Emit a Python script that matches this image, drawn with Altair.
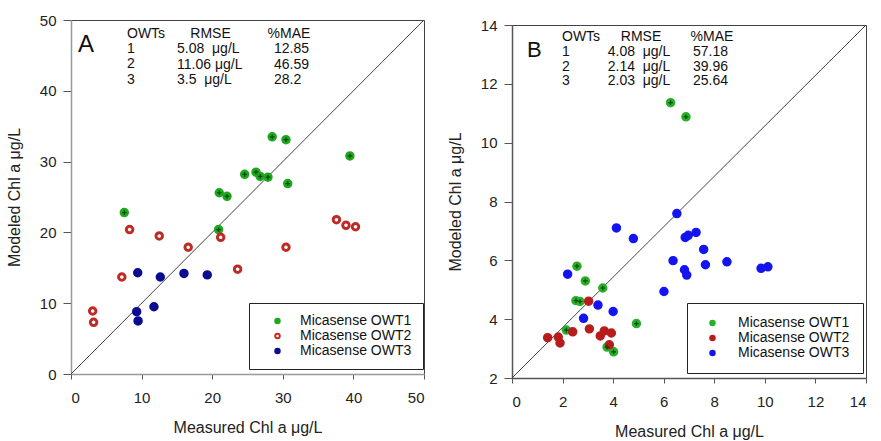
import altair as alt
import pandas as pd

FONT = "Liberation Sans"
NB = "\u00a0"

owt_labels = ["Micasense OWT1", "Micasense OWT2", "Micasense OWT3"]

# ---- Panel A values ----
a_owt1_x = [28.5, 30.45, 39.5, 24.6, 26.2, 26.8, 27.9, 30.7, 21.0, 22.1, 7.55, 20.9]
a_owt1_y = [33.5, 33.1, 30.8, 28.2, 28.5, 27.9, 27.8, 26.9, 25.6, 25.1, 22.8, 20.4]
a_owt2_x = [8.3, 12.5, 16.6, 21.2, 37.6, 38.95, 40.3, 30.45, 23.6, 7.2, 3.07, 3.2]
a_owt2_y = [20.4, 19.5, 17.9, 19.3, 21.8, 21.0, 20.8, 17.9, 14.8, 13.7, 8.9, 7.3]
a_owt3_x = [9.45, 12.65, 16.0, 19.3, 11.75, 9.3, 9.5]
a_owt3_y = [14.3, 13.7, 14.2, 14.0, 9.5, 8.8, 7.5]

# ---- Panel B values ----
b_owt1_x = [6.27, 6.88, 2.57, 2.90, 3.59, 2.53, 2.69, 2.15, 4.92, 3.76, 4.02]
b_owt1_y = [11.36, 10.88, 5.80, 5.30, 5.06, 4.63, 4.60, 3.63, 3.85, 3.05, 2.89]
b_owt2_x = [3.03, 3.06, 1.41, 1.83, 1.90, 2.40, 3.49, 3.65, 3.93, 3.85]
b_owt2_y = [4.61, 3.67, 3.37, 3.39, 3.19, 3.57, 3.43, 3.60, 3.53, 3.13]
b_owt3_x = [6.52, 4.13, 4.80, 7.28, 6.85, 6.97, 7.58, 6.37, 7.65, 8.50, 9.85, 10.12, 6.82, 6.91, 6.01, 2.20, 3.40, 4.00, 2.83]
b_owt3_y = [7.59, 7.10, 6.74, 6.95, 6.78, 6.85, 6.37, 5.99, 5.85, 5.95, 5.73, 5.78, 5.68, 5.50, 4.94, 5.53, 4.48, 4.26, 4.03]

# 1:1 reference lines (corner to corner)
a_diag_x = [0, 50]
a_diag_y = [0, 50]
b_diag_x = [0, 14]
b_diag_y = [2, 14]

# axis ticks
a_ticks = [0, 10, 20, 30, 40, 50]
b_xticks = [0, 2, 4, 6, 8, 10, 12, 14]
b_yticks = [2, 4, 6, 8, 10, 12, 14]

# statistics tables
table_header = ["OWTs", "RMSE", "%MAE"]
owt_ids = ["1", "2", "3"]
a_rmse = ["5.08", "11.06", "3.5"]
a_mae = ["12.85", "46.59", "28.2"]
b_rmse = ["4.08", "2.14", "2.03"]
b_mae = ["57.18", "39.96", "25.64"]

x_title = "Measured Chl a  μg/L"
y_title = "Modeled Chl a  μg/L"


def points_df(xs, ys):
    rows = []
    for lab, xv, yv in zip(owt_labels, xs, ys):
        for a, b in zip(xv, yv):
            rows.append({"x": a, "y": b, "g": lab})
    return pd.DataFrame(rows)


def text_layer(txt, x, y, size=14, align="left", line_height=15.4):
    return alt.Chart(pd.DataFrame({"t": [txt]})).mark_text(
        font=FONT, fontSize=size, align=align, baseline="alphabetic",
        lineBreak="\n", lineHeight=line_height, color="#111"
    ).encode(text="t:N", x=alt.value(x), y=alt.value(y))


def panel(df, diag_x, diag_y, xdom, ydom, xticks, yticks, stroke_rng, fill_rng,
          legend, w, h, texts, domain_color):
    xs = alt.X("x:Q", scale=alt.Scale(domain=xdom, nice=False, zero=False),
               axis=alt.Axis(values=xticks, title=x_title, tickSize=5, labelPadding=11,
                             titlePadding=14, domainColor=domain_color))
    ys = alt.Y("y:Q", scale=alt.Scale(domain=ydom, nice=False, zero=False),
               axis=alt.Axis(values=yticks, title=y_title, tickSize=8, labelPadding=7,
                             titlePadding=17, domainColor=domain_color))
    line = alt.Chart(pd.DataFrame({"x": diag_x, "y": diag_y})).mark_line(
        color="#444", strokeWidth=1).encode(x=xs, y=ys)
    pts = alt.Chart(df).mark_point(filled=True, shape="circle", size=42, strokeWidth=3,
                                   opacity=1).encode(
        x=xs, y=ys,
        fill=alt.Fill("g:N", scale=alt.Scale(domain=owt_labels, range=fill_rng), legend=legend),
        stroke=alt.Stroke("g:N", scale=alt.Scale(domain=owt_labels, range=stroke_rng), legend=legend),
    )
    cross = alt.Chart(df[df["g"] == owt_labels[0]]).mark_point(
        shape="M-1,0L1,0M0,-1L0,1", size=22, strokeWidth=1.2, filled=False,
        color="#063a06", opacity=0.9).encode(x=xs, y=ys)
    layers = [line, pts, cross] + texts
    return alt.layer(*layers).properties(width=w, height=h)


def legend_for(x, y, pad, sym_off, lab_off):
    return alt.Legend(
        orient="none", legendX=x, legendY=y, title=None,
        strokeColor="#222", fillColor="white", padding=pad,
        symbolOffset=sym_off, labelOffset=lab_off, symbolSize=20,
        symbolStrokeWidth=2, labelFont=FONT, labelFontSize=14, labelColor="#111",
        rowPadding=1, symbolType="circle",
    )


df_a = points_df([a_owt1_x, a_owt2_x, a_owt3_x], [a_owt1_y, a_owt2_y, a_owt3_y])
df_b = points_df([b_owt1_x, b_owt2_x, b_owt3_x], [b_owt1_y, b_owt2_y, b_owt3_y])

a_texts = [
    text_layer("A", 7, 32, size=24),
    text_layer("\n".join([table_header[0]] + owt_ids), 56, 17.7),
    text_layer(table_header[1], 139.5, 17.7, align="center"),
    text_layer("\n".join([a_rmse[0] + NB + NB + "μg/L", a_rmse[1] + NB + "μg/L",
                          NB + a_rmse[2] + NB + NB + "μg/L"]), 106, 33.2),
    text_layer(table_header[2], 218, 17.7, align="center"),
    text_layer("\n".join([a_mae[0], NB + a_mae[1], NB + a_mae[2]]), 203, 33.2),
]
b_texts = [
    text_layer("B", 15, 32, size=22),
    text_layer("\n".join([table_header[0]] + owt_ids), 50, 16, line_height=14.8),
    text_layer(table_header[1], 129, 16, align="center"),
    text_layer("\n".join([v + NB + NB + "μg/L" for v in b_rmse]), 95.7, 30.8, line_height=14.8),
    text_layer(table_header[2], 200, 16, align="center"),
    text_layer("\n".join([b_mae[0], b_mae[1], NB + b_mae[2]]), 181, 30.8, line_height=14.8),
]

panel_a = panel(df_a, a_diag_x, a_diag_y, [0, 50], [0, 50], a_ticks, a_ticks,
                ["#1ea81e", "#c02a24", "#0c0c90"], ["#1ea81e", "#ffffff", "#0c0c90"],
                legend_for(178, 283, 11, 10.5, 15.5), 353, 354, a_texts, "#999")
panel_b = panel(df_b, b_diag_x, b_diag_y, [0, 14], [2, 14], b_xticks, b_yticks,
                ["#28b028", "#b81c1c", "#1414f0"], ["#28b028", "#b81c1c", "#1414f0"],
                legend_for(175, 283, 13, 5.5, 18.5), 354, 353, b_texts, "#555")

# invisible strip that lowers panel B by a few pixels, as in the reference
spacer = alt.Chart(pd.DataFrame({"s": [0]})).mark_point(opacity=0).encode(
    x=alt.X("s:Q", axis=None), y=alt.Y("s:Q", axis=None)
).properties(width=354, height=1, view=alt.ViewBackground(strokeOpacity=0))

col_b = alt.vconcat(spacer, panel_b, spacing=4, bounds="flush")

chart = alt.hconcat(panel_a, col_b, spacing=19).resolve_scale(
    fill="independent", stroke="independent", x="independent", y="independent"
).resolve_legend(fill="independent", stroke="independent").properties(
    padding={"left": 5, "top": 12, "right": 0, "bottom": 0}
).configure_axis(
    labelFont=FONT, titleFont=FONT, labelFontSize=15, titleFontSize=16,
    labelColor="#222", titleColor="#222", titleFontWeight="normal",
    grid=False, tickColor="#555", domainWidth=1.5,
).configure_view(stroke="#444", strokeWidth=1)

chart.save("out.html", embed_options={"renderer": "svg", "actions": False})
